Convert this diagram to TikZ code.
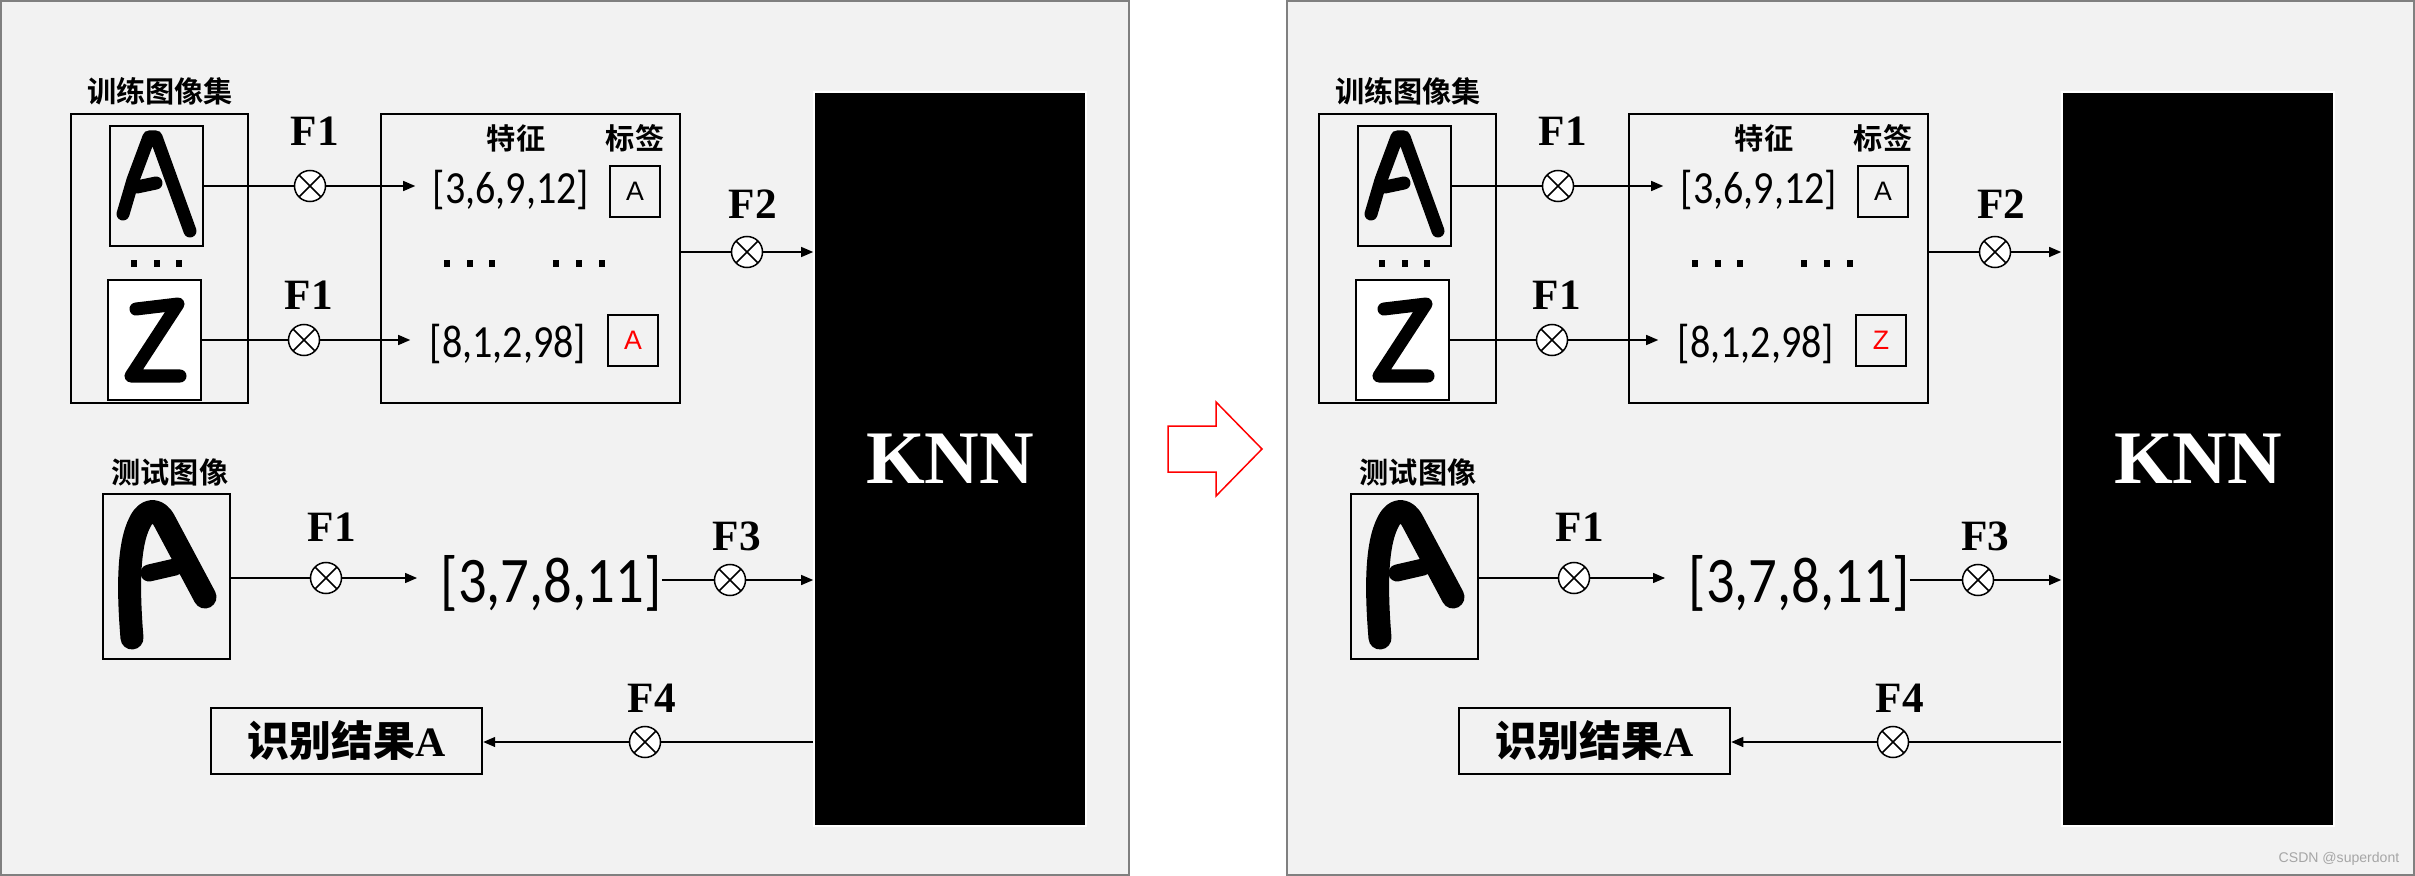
\documentclass[tikz,border=0pt]{standalone}
\usepackage{fontspec}
\setmainfont{Liberation Serif}
\newfontfamily\cjk{Noto Sans CJK SC}[UprightFont=* Bold]
\newfontfamily\numfont{Carlito}[FakeStretch=0.87]
\newfontfamily\lblfont{Liberation Sans}
\usetikzlibrary{arrows.meta, positioning, calc}

\begin{document}
\begin{tikzpicture}[x=0.01cm, y=-0.01cm, >={Triangle[length=0.12cm, width=0.1cm]},
  every node/.style={inner sep=0pt},
  panel/.style={draw=black!50, fill=black!5, line width=0.025cm},
  box/.style={draw, line width=0.023cm},
  imgbox/.style={draw, line width=0.013cm, minimum width=0.93cm, minimum height=1.2cm},
  lblbox/.style={draw, line width=0.017cm, minimum width=0.5cm, minimum height=0.51cm,
    font=\lblfont\fontsize{7.6}{8}\selectfont},
  mult/.style={circle, draw, fill=white, minimum size=0.31cm, line width=0.015cm,
    path picture={\draw[line width=0.015cm]
      (path picture bounding box.south west) -- (path picture bounding box.north east)
      (path picture bounding box.north west) -- (path picture bounding box.south east);}},
  flabel/.style={font=\bfseries\fontsize{12.3}{12}\selectfont},
  cjklabel/.style={font=\cjk\fontsize{8.3}{9}\selectfont},
  vec/.style={font=\numfont\fontsize{13.1}{14}\selectfont},
  link/.style={line width=0.013cm},
  pen/.style={line width=#1, line cap=round, line join=round}]
  \useasboundingbox (0,0) rectangle (2415,876);
  % two panels
  \draw[panel] (1,1) rectangle (1129,875);
  \draw[panel] (1287,1) rectangle (2414,875);
  % red arrow between them
  \draw[red, line width=0.015cm, fill=white] (1168,426) -- (1216,426) -- (1216,402)
    -- (1262,449) -- (1216,496) -- (1216,472) -- (1168,472) -- cycle;
  \foreach \p/\ox/\lbl in {l/0/A, r/1248/Z} {
  \begin{scope}[shift={(\ox,0)}]
    % training images
    \node[cjklabel] (trainname\p) at (160,91) {训练图像集};
    \node[box, minimum width=1.77cm, minimum height=2.89cm] (train\p) at (159.5,258.5) {};
    \node[imgbox] (imga\p) at (156.5,186) {};
    \node[imgbox, fill=white] (imgz\p) at (154.5,340) {};
    \draw[pen=0.13cm] (123,214) -- (133,180) -- (149,137) -- (156,137) -- (190,231)
      (137,187) -- (156,183);
    \draw[pen=0.13cm] (136,309) -- (178,304) -- (131,376) -- (180,376);
    \foreach \x in {134,157,179} \fill (\x-3,260) rectangle (\x+3,267);
    % feature table
    \node[box, minimum width=2.99cm, minimum height=2.89cm] (feat\p) at (530.5,258.5) {};
    \node[cjklabel] (hfeat\p) at (516,138) {特征};
    \node[cjklabel] (hlbl\p) at (635,138) {标签};
    \node[vec] (v1\p) at (511,190) {[3,6,9,12]};
    \node[vec] (v2\p) at (508,344) {[8,1,2,98]};
    \node[lblbox] (l1\p) at (635,191.5) {A};
    \node[lblbox, text=red] (l2\p) at (633,340.5) {\lbl};
    \foreach \x in {447,470,492,556,579,602} \fill (\x-3,260) rectangle (\x+3,267);
    % F1 on training images
    \node[mult] (c1\p) at (310,186) {};
    \node[flabel] (f1a\p) at (315,131) {F1};
    \node[mult] (c2\p) at (304,340) {};
    \node[flabel] (f1b\p) at (309,295) {F1};
    \draw[link] (imga\p.east) -- (c1\p);
    \draw[link, ->] (c1\p) -- ($(c1\p -| v1\p.west)+(-17,0)$);
    \draw[link] (imgz\p.east) -- (c2\p);
    \draw[link, ->] (c2\p) -- ($(c2\p -| v2\p.west)+(-19,0)$);
    % classifier
    \node[fill=black, draw=white, line width=0.015cm, minimum width=2.72cm, minimum height=7.34cm,
      text=white, font=\bfseries\fontsize{21.5}{22}\selectfont] (knn\p) at (950,459) {KNN};
    \node[mult] (c3\p) at (747,252) {};
    \node[flabel] (f2\p) at (753,204) {F2};
    \draw[link] (feat\p.east |- c3\p) -- (c3\p);
    \draw[link, ->] (c3\p) -- (c3\p -| knn\p.west);
    % test image
    \node[cjklabel] (testname\p) at (170,472) {测试图像};
    \node[imgbox, minimum width=1.27cm, minimum height=1.65cm] (test\p) at (166.5,576.5) {};
    \draw[pen=0.23cm] (132,638) .. controls (128,590) and (128,545) .. (140,522)
      .. controls (147,508) and (158,508) .. (165,522) -- (205,597);
    \draw[pen=0.17cm] (149,573) -- (175,567);
    \node[mult] (c4\p) at (326,578) {};
    \node[flabel] (f1c\p) at (332,527) {F1};
    \node[vec, font=\numfont\fontsize{18.5}{19}\selectfont] (v3\p) at (551,583) {[3,7,8,11]};
    \draw[link] (test\p.east |- c4\p) -- (c4\p);
    \draw[link, ->] (c4\p) -- ($(c4\p -| v3\p.west)+(-23,0)$);
    \node[mult] (c5\p) at (730,580) {};
    \node[flabel] (f3\p) at (737,536) {F3};
    \draw[link] (v3\p.east |- c5\p) -- (c5\p);
    \draw[link, ->] (c5\p) -- (c5\p -| knn\p.west);
    % result
    \node[box, minimum width=2.71cm, minimum height=0.66cm,
      font=\bfseries\fontsize{11.9}{12}\selectfont] (res\p) at (346.5,741) {{\cjk 识别结果}A};
    \node[mult] (c6\p) at (645,742) {};
    \node[flabel] (f4\p) at (652,698) {F4};
    \draw[link] (knn\p.west |- c6\p) -- (c6\p);
    \draw[link, ->] (c6\p) -- (res\p.east |- c6\p);
  \end{scope}
  }
  \node[anchor=east, text=black!35, font=\lblfont\fontsize{4}{4}\selectfont] (mark) at (2400,859) {CSDN @superdont};
\end{tikzpicture}
\end{document}
